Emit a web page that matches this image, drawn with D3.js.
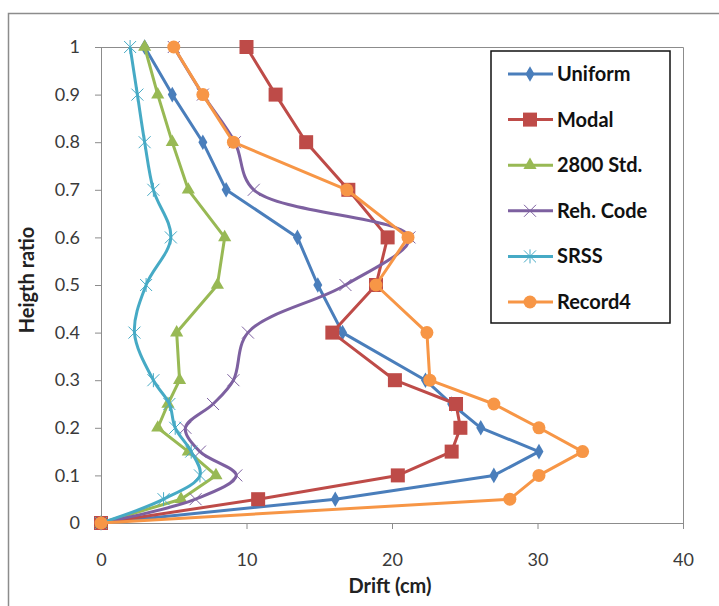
<!DOCTYPE html>
<html lang="en">
<head>
<meta charset="UTF-8">
<script src="https://d3js.org/d3.v7.min.js"></script>
<title>Drift profile</title>
<style>
  body { margin: 0; background: #fff; }
  svg text { font-family: Lato, "Open Sans", sans-serif; }
</style>
</head>
<body>
<div id="container"></div>
<script>
// height ratios shared by every series
var heights = [0, 0.05, 0.1, 0.15, 0.2, 0.25, 0.3, 0.4, 0.5, 0.6, 0.7, 0.8, 0.9, 1];

var uniform  = [0, 16.1, 27.0, 30.1, 26.1, 24.1, 22.3, 16.6, 14.9, 13.5, 8.6, 7.0, 4.9, 3.0];
var modal    = [0, 10.8, 20.4, 24.1, 24.7, 24.4, 20.2, 15.9, 18.9, 19.7, 17.0, 14.1, 12.0, 10.0];
var std2800  = [0, 5.5, 7.9, 6.0, 3.9, 4.6, 5.4, 5.2, 8.0, 8.5, 6.0, 4.9, 3.9, 3.0];
var rehCode  = [0, 6.5, 9.3, 6.8, 5.8, 7.7, 9.1, 10.1, 16.8, 21.2, 10.5, 9.2, 7.0, 5.0];
var srss     = [0, 4.3, 6.8, 6.2, 5.1, 4.7, 3.6, 2.3, 3.1, 4.8, 3.6, 3.0, 2.5, 2.0];
var record4  = [0, 28.1, 30.1, 33.1, 30.1, 27.0, 22.6, 22.4, 18.9, 21.1, 16.9, 9.1, 7.0, 5.0];

var seriesNames = ["Uniform", "Modal", "2800 Std.", "Reh. Code", "SRSS", "Record4"];
var xTicks = [0, 10, 20, 30, 40];
var yTicks = [0, 0.1, 0.2, 0.3, 0.4, 0.5, 0.6, 0.7, 0.8, 0.9, 1];

var seriesValues = [uniform, modal, std2800, rehCode, srss, record4];
var colors = ["#4a7ebb", "#be4b48", "#98b954", "#7d60a0", "#46aac5", "#f79646"];
var shapes = ["diamond", "square", "triangle", "x", "star", "circle"];
var smooth = [false, false, false, true, true, false];

var width = 719, height = 606;
var plotL = 101, plotR = 683, plotT = 47, plotB = 523;

var svg = d3.select("#container").append("svg")
  .attr("width", width).attr("height", height);

// chart frame
svg.append("path")
  .attr("d", "M8.5," + height + "V13.5H" + width)
  .attr("fill", "none").attr("stroke", "#8c8c8c").attr("stroke-width", 1.5);

var x = d3.scaleLinear().domain([0, 40]).range([plotL, plotR]);
var y = d3.scaleLinear().domain([0, 1]).range([plotB, plotT]);

// plot area border (top & right)
svg.append("path")
  .attr("d", "M" + plotL + "," + (plotT + 0.5) + "H" + (plotR + 0.5) + "V" + plotB)
  .attr("fill", "none").attr("stroke", "#8c8c8c").attr("stroke-width", 1);

var xAxis = svg.append("g")
  .attr("transform", "translate(0," + plotB + ")")
  .call(d3.axisBottom(x).tickValues(xTicks).tickSize(6).tickPadding(24).tickFormat(d3.format("d")));
var yAxis = svg.append("g")
  .attr("transform", "translate(" + plotL + ",0)")
  .call(d3.axisLeft(y).tickValues(yTicks).tickSize(6).tickPadding(15).tickFormat(function(d){ return d === 0 || d === 1 ? d : d3.format(".1f")(d); }));

[xAxis, yAxis].forEach(function(a) {
  a.select(".domain").attr("stroke", "#8c8c8c");
  a.selectAll(".tick line").attr("stroke", "#8c8c8c");
  a.selectAll(".tick text").attr("fill", "#3a3a3a").style("font-size", "18px");
});

// axis titles
svg.append("text")
  .attr("x", 390).attr("y", 593)
  .attr("text-anchor", "middle")
  .style("font-size", "20px").style("font-weight", "bold").attr("fill", "#222")
  .text("Drift (cm)");
svg.append("text")
  .attr("transform", "translate(34,280) rotate(-90)")
  .attr("text-anchor", "middle")
  .style("font-size", "20px").style("font-weight", "bold").attr("fill", "#222")
  .text("Heigth ratio");

var lineStraight = d3.line()
  .x(function(d){ return x(d[0]); })
  .y(function(d){ return y(d[1]); });
var lineSmooth = d3.line()
  .x(function(d){ return x(d[0]); })
  .y(function(d){ return y(d[1]); })
  .curve(d3.curveCatmullRom.alpha(0.5));

function drawMarker(g, shape, color, cx, cy) {
  if (shape === "diamond") {
    g.append("path").attr("d", d3.symbol(d3.symbolDiamond, 70)())
      .attr("transform", "translate(" + cx + "," + cy + ")").attr("fill", color);
  } else if (shape === "square") {
    g.append("rect").attr("x", cx - 7).attr("y", cy - 7).attr("width", 14).attr("height", 14).attr("fill", color);
  } else if (shape === "triangle") {
    g.append("path").attr("d", d3.symbol(d3.symbolTriangle, 75)())
      .attr("transform", "translate(" + cx + "," + cy + ")").attr("fill", color);
  } else if (shape === "circle") {
    g.append("circle").attr("cx", cx).attr("cy", cy).attr("r", 6.5).attr("fill", color);
  } else {
    var p = "M-6,-6L6,6M-6,6L6,-6" + (shape === "star" ? "M0,-7V7" : "");
    g.append("path").attr("d", p)
      .attr("transform", "translate(" + cx + "," + cy + ")")
      .attr("stroke", color).attr("stroke-width", 1).attr("fill", "none");
  }
}

seriesValues.forEach(function(vals, i) {
  var pts = vals.map(function(v, j){ return [v, heights[j]]; });
  var g = svg.append("g");
  g.append("path").attr("d", (smooth[i] ? lineSmooth : lineStraight)(pts))
    .attr("fill", "none").attr("stroke", colors[i]).attr("stroke-width", 3)
    .attr("stroke-linejoin", "round");
  pts.forEach(function(p) {
    drawMarker(g, shapes[i], colors[i], x(p[0]), y(p[1]));
  });
});

// legend
var legend = svg.append("g");
legend.append("rect")
  .attr("x", 491).attr("y", 51).attr("width", 179).attr("height", 272)
  .attr("fill", "#fff").attr("stroke", "#111").attr("stroke-width", 1.5);
seriesNames.forEach(function(name, i) {
  var ly = 74 + i * 45.6;
  legend.append("line").attr("x1", 508).attr("x2", 553).attr("y1", ly).attr("y2", ly)
    .attr("stroke", colors[i]).attr("stroke-width", 3);
  drawMarker(legend, shapes[i], colors[i], 530, ly);
  legend.append("text").attr("x", 557).attr("y", ly + 7)
    .style("font-size", "20px").style("font-weight", "bold").attr("fill", "#111")
    .text(name);
});
</script>
</body>
</html>
